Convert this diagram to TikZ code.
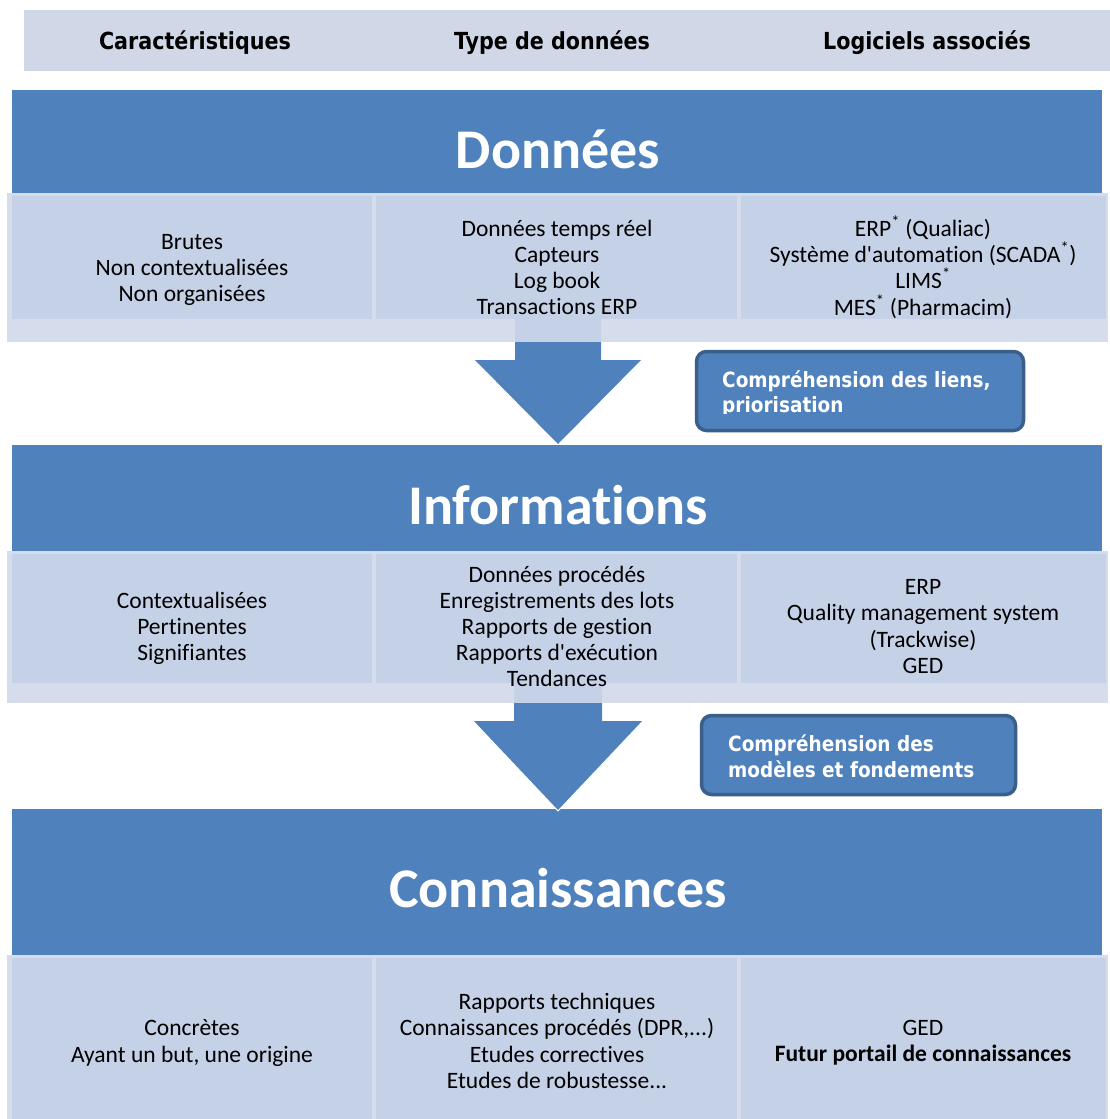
\documentclass[tikz,border=0pt]{standalone}
\usepackage{fontspec}
\setmainfont[Ligatures={TeX,NoCommon}]{Carlito}
\newfontfamily\hdrfont[FakeStretch=0.88]{DejaVu Sans}
\definecolor{bandblue}{HTML}{4F81BD}
\definecolor{hdrgray}{HTML}{D0D8E8}
\definecolor{cellblue}{HTML}{C5D1E6}
\definecolor{striplight}{HTML}{D5DCEB}
\definecolor{callborder}{HTML}{3A5F8B}
\begin{document}
\begin{tikzpicture}[x=1pt,y=-1pt,
  bandfill/.style={fill=bandblue},
  cellfill/.style={fill=cellblue},
  stripfill/.style={fill=striplight},
  arrowfill/.style={fill=bandblue},
  hdrtext/.style={font=\hdrfont\bfseries\fontsize{23.5}{27}\selectfont, inner sep=0pt, anchor=base},
  titletext/.style={font=\bfseries\fontsize{56}{60}\selectfont, text=white, inner sep=0pt, anchor=base},
  celltext/.style={font=\fontsize{23.5}{26.2}\selectfont, align=center, inner sep=0pt, anchor=center},
  callbox/.style={fill=bandblue, draw=callborder, line width=3.5pt, rounded corners=10pt, inner sep=0pt},
  calltext/.style={font=\hdrfont\bfseries\fontsize{21}{25}\selectfont, text=white, inner sep=0pt, anchor=base west}
]
\useasboundingbox (0,0) rectangle (1110,1119);
\fill[white] (0,0) rectangle (1110,1119);

% header
\fill[fill=hdrgray] (24,10) rectangle (1110,71);
\node[hdrtext] (h1) at (195,49) {Caractéristiques};
\node[hdrtext] (h2) at (552,49) {Type de données};
\node[hdrtext] (h3) at (927,49) {Logiciels associés};

% ---------- Données ----------
\fill[bandfill] (12,90) rectangle (1102,193);
\node[titletext] (t1) at (558,168) {Données};
\fill[stripfill] (7,193) rectangle (1108,342);
\fill[cellfill] (12,196) rectangle (372,319);
\fill[cellfill] (376,196) rectangle (737,319);
\fill[cellfill] (741,196) rectangle (1106,319);
\fill[cellfill] (515,319) rectangle (601,342);
\node[celltext] (c11) at (192,270) {Brutes\\Non contextualisées\\Non organisées};
\node[celltext] (c12) at (557,267.5) {Données temps réel\\Capteurs\\Log book\\Transactions ERP};
\node[celltext] (c13) at (923,267) {ERP\textsuperscript{*}~(Qualiac)\\Système d\textquotesingle automation (SCADA\textsuperscript{*})\\LIMS\textsuperscript{*}\\MES\textsuperscript{*}~(Pharmacim)};

% arrow 1
\fill[arrowfill] (515,342) -- (515,360) -- (475,360) -- (558,444) -- (641,360) -- (601,360) -- (601,342) -- cycle;

% callout 1
\node[callbox, minimum width=327pt, minimum height=79pt] (k1) at (860,391) {};
\begin{scope}
  \clip (700,354) rectangle (1020,413.5);
  \node[calltext] (k1a) at (722,387) {Compréhension des liens,};
  \node[calltext] (k1b) at (722,412) {priorisation};
\end{scope}

% ---------- Informations ----------
\fill[bandfill] (12,445) rectangle (1102,551);
\node[titletext] (t2) at (558,524) {Informations};
\fill[stripfill] (7,551) rectangle (1108,703);
\fill[cellfill] (12,554) rectangle (372,683);
\fill[cellfill] (376,554) rectangle (737,683);
\fill[cellfill] (741,554) rectangle (1106,683);
\fill[cellfill] (514,683) rectangle (602,703);
\node[celltext] (c21) at (192,628.5) {Contextualisées\\Pertinentes\\Signifiantes};
\node[celltext] (c22) at (557,626.5) {Données procédés\\Enregistrements des lots\\Rapports de gestion\\Rapports d\textquotesingle exécution\\Tendances};
\node[celltext] (c23) at (923,626.5) {ERP\\Quality management system\\(Trackwise)\\GED};

% ---------- Connaissances ----------
\fill[bandfill] (12,809) rectangle (1102,955);
\node[titletext] (t3) at (558,907) {Connaissances};

% arrow 2
\fill[arrowfill] (514,703) -- (514,721) -- (473,721) -- (558,811) -- (643,721) -- (602,721) -- (602,703) -- cycle;
\draw[white, line width=1pt] (473,721) -- (558,811) -- (643,721);

% callout 2
\node[callbox, minimum width=314pt, minimum height=79pt] (k2) at (858.5,755) {};
\node[calltext] (k2a) at (728,751) {Compréhension des};
\node[calltext] (k2b) at (728,777) {modèles et fondements};

\fill[stripfill] (7,955) rectangle (1108,1119);
\fill[cellfill] (12,958) rectangle (372,1119);
\fill[cellfill] (376,958) rectangle (737,1119);
\fill[cellfill] (741,958) rectangle (1106,1119);
\node[celltext] (c31) at (192,1043) {Concrètes\\Ayant un but, une origine};
\node[celltext] (c32) at (557,1041) {Rapports techniques\\Connaissances procédés (DPR,...)\\Etudes correctives\\Etudes de robustesse...};
\node[celltext] (c33) at (923,1043) {GED\\\textbf{Futur portail de connaissances}};
\end{tikzpicture}
\end{document}
